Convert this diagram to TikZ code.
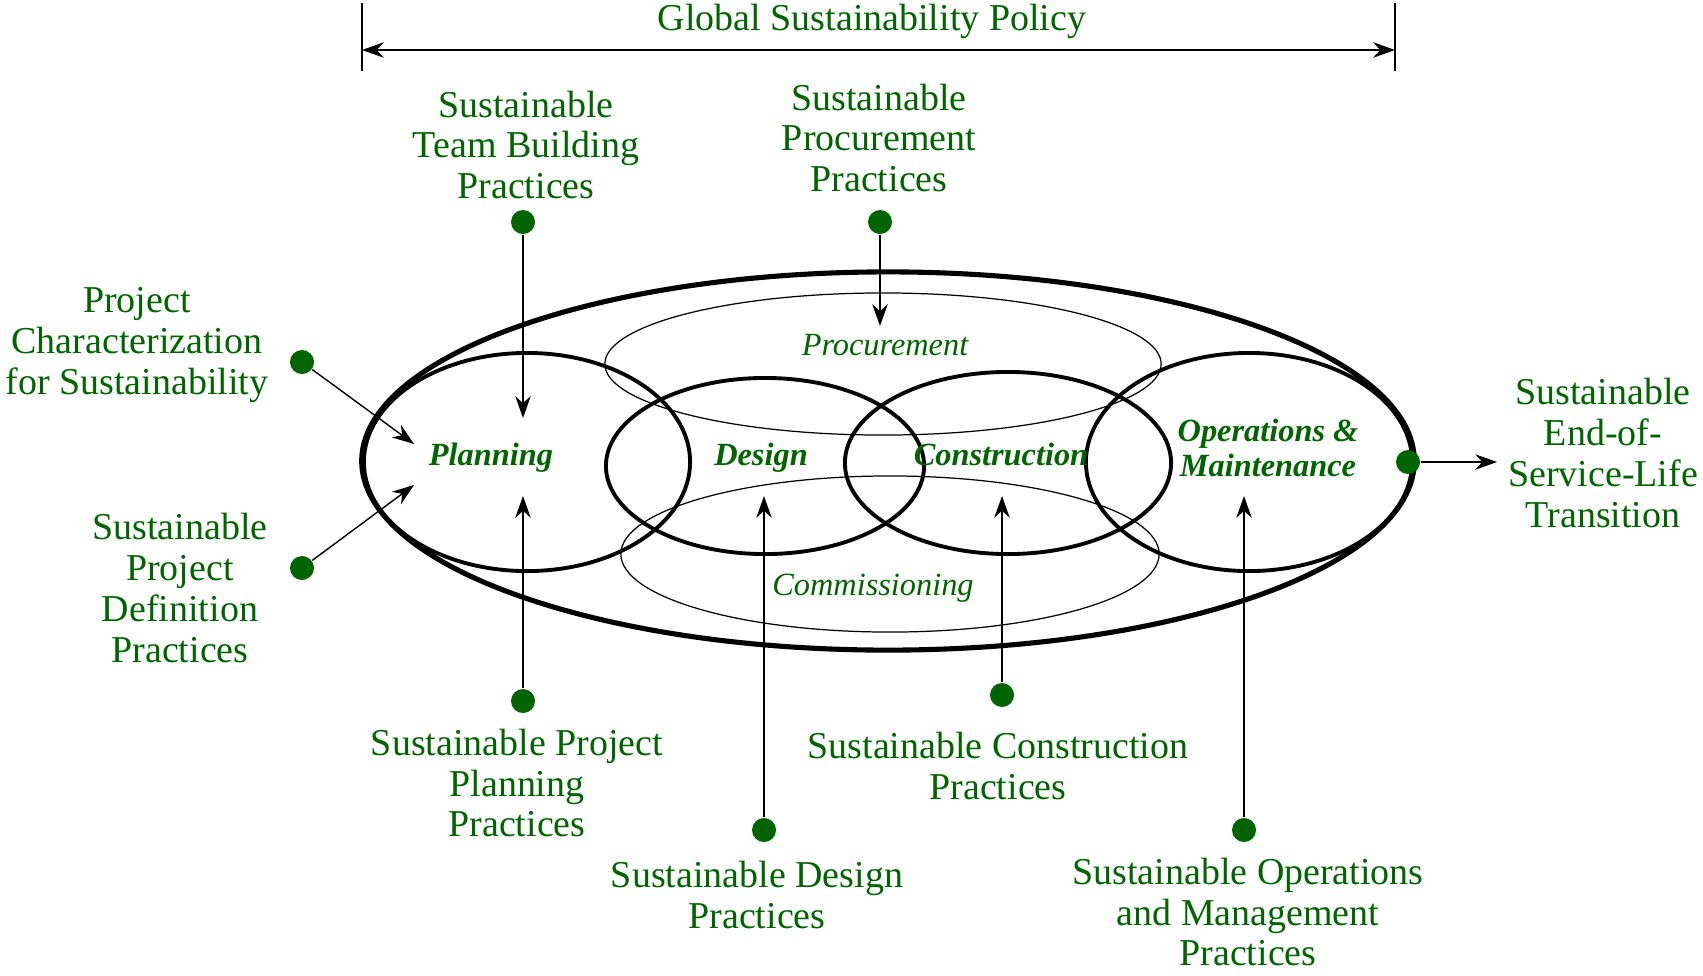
\documentclass[tikz,border=0pt]{standalone}
\usepackage{fontspec}
\setmainfont{Liberation Serif}
\usepackage{tikz}
\usetikzlibrary{shapes.geometric}
\usetikzlibrary{arrows.meta}
\definecolor{leafgreen}{RGB}{0,100,0}
\tikzset{
	practice/.style={text=leafgreen, align=center, font=\fontsize{10.8}{11.6}\selectfont},
	phase/.style={text=leafgreen, align=center, font=\fontsize{9.2}{9.9}\selectfont\bfseries\itshape},
	stage/.style={text=leafgreen, font=\fontsize{9.2}{11}\selectfont\itshape},
	greendot/.style={circle, fill=leafgreen, inner sep=0pt, minimum size=0.24cm},
	ring/.style={draw, ellipse, inner sep=0pt, line width=1.1pt},
	thinring/.style={draw, ellipse, inner sep=0pt, line width=0.35pt},
	feed/.style={-{Stealth[length=6.2pt, width=4.4pt, inset=2pt]}, line width=0.4pt},
}

\begin{document}
\begin{tikzpicture}[x=0.01cm, y=-0.01cm]
		\useasboundingbox (0, 0) rectangle (1703, 975);
		% Ellipses:
		\node[ring, line width=1.45pt, minimum width=10.52cm, minimum height=3.78cm](N1) at (888, 461){};
		\node[thinring, minimum width=5.56cm, minimum height=1.42cm](N2) at (883, 364){};
		\node[thinring, minimum width=5.38cm, minimum height=1.56cm](N3) at (890, 554){};
		\node[ring, minimum width=3.26cm, minimum height=2.18cm](N4) at (527, 462){};
		\node[ring, minimum width=3.18cm, minimum height=1.76cm](N5) at (765, 466){};
		\node[ring, minimum width=3.26cm, minimum height=1.82cm](N6) at (1008, 463){};
		\node[ring, minimum width=3.26cm, minimum height=2.18cm](N7) at (1249, 462){};
		% Labels inside:
		\node[phase](N8) at (491, 458){Planning};
		\node[phase](N9) at (761, 458){Design};
		\node[phase](N10) at (1001, 454){Construction};
		\node[phase](N11) at (1268, 448){Operations \&\\Maintenance};
		\node[stage](N12) at (885, 345){Procurement};
		\node[stage](N13) at (873, 588){Commissioning};
		% Policy span:
		\node[practice](N14) at (872, 21){Global Sustainability Policy};
		\coordinate (A1) at (362, 50);
		\coordinate (A2) at (1395, 50);
		\draw[line width=0.3pt] (362, 3) -- (362, 71);
		\draw[line width=0.3pt] (1395, 3) -- (1395, 71);
		\draw[{Stealth[length=6.2pt, width=4.4pt, inset=2pt]}-{Stealth[length=6.2pt, width=4.4pt, inset=2pt]}, line width=0.6pt] (A1) -- (A2);
		% Practices and dots:
		\node[practice](N15) at (526, 145){Sustainable\\Team Building\\Practices};
		\node[greendot](D1) at (523, 222){};
		\node[practice](N16) at (879, 138){Sustainable\\Procurement\\Practices};
		\node[greendot](D2) at (880, 222){};
		\node[practice](N17) at (137, 345){Project\\Characterization\\for Sustainability};
		\node[greendot](D3) at (302, 362){};
		\node[practice](N18) at (180, 588){Sustainable\\Project\\Definition\\Practices};
		\node[greendot](D4) at (302, 568){};
		\node[practice](N19) at (517, 783){Sustainable Project\\Planning\\Practices};
		\node[greendot](D5) at (523, 701){};
		\node[practice](N20) at (757, 895){Sustainable Design\\Practices};
		\node[greendot](D6) at (764, 830){};
		\node[practice](N21) at (998, 766){Sustainable Construction\\Practices};
		\node[greendot](D7) at (1002, 695){};
		\node[practice](N22) at (1248, 912){Sustainable Operations\\and Management\\Practices};
		\node[greendot](D8) at (1244, 830){};
		\node[practice](N23) at (1603, 453){Sustainable\\End-of-\\Service-Life\\Transition};
		\node[greendot](D9) at (1408, 462){};
		% Arrow ends:
		\coordinate (T1) at (523, 418);
		\coordinate (T2) at (880, 326);
		\coordinate (T3) at (414, 444);
		\coordinate (T4) at (414, 485);
		\coordinate (T5) at (523, 496);
		\coordinate (T6) at (764, 496);
		\coordinate (T7) at (1002, 496);
		\coordinate (T8) at (1244, 496);
		\coordinate (T9) at (1497, 462);
		\draw[feed] (D1) -- (T1);
		\draw[feed] (D2) -- (T2);
		\draw[feed] (D3) -- (T3);
		\draw[feed] (D4) -- (T4);
		\draw[feed] (D5) -- (T5);
		\draw[feed] (D6) -- (T6);
		\draw[feed] (D7) -- (T7);
		\draw[feed] (D8) -- (T8);
		\draw[feed] (D9) -- (T9);
	\end{tikzpicture}
\end{document}
